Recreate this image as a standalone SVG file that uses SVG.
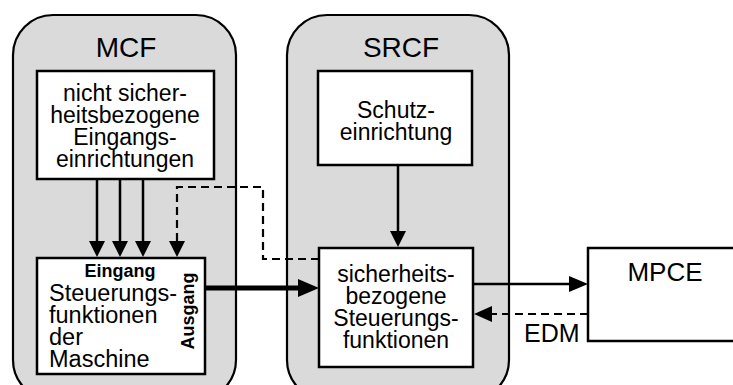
<svg xmlns="http://www.w3.org/2000/svg" width="733" height="385" viewBox="0 0 733 385">
<style>
.cont{fill:#dadada;stroke:#000;stroke-width:2.2}
.box{fill:#fff;stroke:#000;stroke-width:2.5}
text{font-family:"Liberation Sans",Arial,sans-serif;fill:#000}
.t{font-size:23px;text-anchor:middle}
.l{font-size:23.5px}
.h{font-size:28px;text-anchor:middle}
.b{font-size:18px;font-weight:bold;text-anchor:middle}
.ln{stroke:#000;stroke-width:2.5;fill:none}
.ds{stroke:#000;stroke-width:2.2;fill:none;stroke-dasharray:8,5}
.th{stroke:#000;stroke-width:5;fill:none}
</style>
<g id="mcf">
<rect class="cont" x="13" y="15" width="223" height="385" rx="40"/>
<text class="h" x="126" y="57">MCF</text>
</g>
<g id="srcf">
<rect class="cont" x="287" y="15" width="222" height="385" rx="40"/>
<text class="h" x="401" y="57">SRCF</text>
</g>
<g id="input-devices">
<rect class="box" x="37" y="71" width="177" height="108"/>
<text class="t" x="125" y="101">nicht sicher-</text>
<text class="t" x="125" y="123">heitsbezogene</text>
<text class="t" x="125" y="145">Eingangs-</text>
<text class="t" x="125" y="167">einrichtungen</text>
</g>
<g id="machine-control">
<rect class="box" x="37" y="258" width="168" height="116"/>
<text class="b" x="120" y="277">Eingang</text>
<text class="l" x="49" y="301">Steuerungs-</text>
<text class="l" x="49" y="323">funktionen</text>
<text class="l" x="49" y="345">der</text>
<text class="l" x="49" y="367">Maschine</text>
<text class="b" transform="translate(194,311) rotate(-90)">Ausgang</text>
</g>
<g id="guard">
<rect class="box" x="318" y="71" width="154" height="94"/>
<text class="t" x="396" y="118">Schutz-</text>
<text class="t" x="396" y="140">einrichtung</text>
</g>
<g id="safety-control">
<rect class="box" x="319" y="248" width="154" height="119"/>
<text class="t" x="396" y="282">sicherheits-</text>
<text class="t" x="396" y="304">bezogene</text>
<text class="t" x="396" y="326">Steuerungs-</text>
<text class="t" x="396" y="348">funktionen</text>
</g>
<g id="mpce">
<rect class="box" x="588" y="248" width="160" height="93"/>
<text x="665" y="281" style="font-size:26px;text-anchor:middle">MPCE</text>
</g>
<g id="connectors">
<line class="ln" x1="97" y1="179" x2="97" y2="242"/>
<path d="M89,241 L105,241 L97,257 Z"/>
<line class="ln" x1="120" y1="179" x2="120" y2="242"/>
<path d="M112,241 L128,241 L120,257 Z"/>
<line class="ln" x1="143" y1="179" x2="143" y2="242"/>
<path d="M135,241 L151,241 L143,257 Z"/>
<path class="ds" d="M319,259 L263,259 L263,187 L177,187 L177,242"/>
<path d="M169,241 L185,241 L177,257 Z"/>
<line class="th" x1="205" y1="288" x2="300" y2="288"/>
<path d="M298,279 L319,288 L298,297 Z"/>
<line class="ln" x1="398" y1="165" x2="398" y2="232"/>
<path d="M390,231 L406,231 L398,247 Z"/>
<line class="ln" x1="473" y1="284" x2="570" y2="284"/>
<path d="M569,276 L588,284 L569,292 Z"/>
<path class="ds" d="M588,314 L490,314"/>
<path d="M492,306 L474,314 L492,322 Z"/>
<text x="524" y="342" style="font-size:25px">EDM</text>
</g>
</svg>
